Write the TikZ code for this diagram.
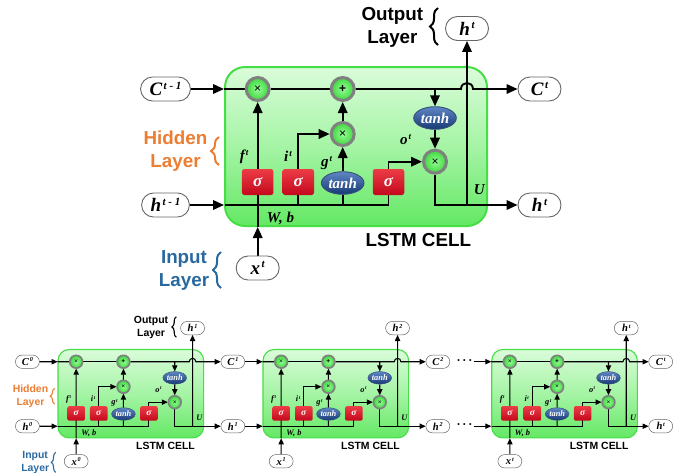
\documentclass[tikz,border=0pt]{standalone}
\usepackage{fontspec}
\setmainfont{Liberation Serif}
\setsansfont{Liberation Sans}
\usetikzlibrary{shapes.geometric,arrows.meta,decorations.pathreplacing}
\pgfdeclarelayer{back}
\pgfdeclarelayer{mid}
\pgfsetlayers{back,mid,main}
\definecolor{orng}{RGB}{237,125,49}
\definecolor{blu}{RGB}{41,105,160}
\definecolor{boxtop}{RGB}{218,252,218}
\definecolor{boxmid}{RGB}{165,244,165}
\definecolor{boxbot}{RGB}{100,232,100}
\definecolor{boxedge}{RGB}{70,222,70}
\definecolor{circin}{RGB}{150,252,150}
\definecolor{circout}{RGB}{60,215,60}
\definecolor{ring}{RGB}{128,128,128}
\definecolor{redtop}{RGB}{236,60,70}
\definecolor{redbot}{RGB}{196,8,28}
\definecolor{bluetop}{RGB}{95,135,195}
\definecolor{bluebot}{RGB}{22,58,118}
\newcommand\setsc[1]{\def\s{#1}%
 \pgfmathsetmacro\al{11*#1}\pgfmathsetmacro\aw{9.5*#1}%
 \pgfmathsetmacro\lw{1.9*#1}\pgfmathsetmacro\lwr{3*#1}%
 \pgfmathsetmacro\lwt{0.9*#1}\pgfmathsetmacro\ba{8*#1}%
 \pgfmathsetmacro\rc{20*#1}\pgfmathsetmacro\rp{12*#1}\pgfmathsetmacro\rs{2.5*#1}%
 \pgfmathsetmacro\lwb{2*#1}}
\setsc{1}
\newcommand\lbl[2]{{\fontsize{19}{19}\selectfont\bfseries\itshape #1\kern1.5pt\raisebox{6.5pt}{\fontsize{11}{11}\selectfont #2}}}
\newcommand\gl[2]{{\fontsize{15}{15}\selectfont\bfseries\itshape #1\kern1pt\raisebox{5pt}{\fontsize{9}{9}\selectfont #2}}}
\tikzset{
 ln/.style={line width=\lw pt, draw=black},
 arr/.style={ln, -{Triangle[length=\al pt,width=\aw pt]}},
 cellbox/.style={rectangle, rounded corners=\rc pt, minimum width=262pt, minimum height=159pt, inner sep=0pt, draw=boxedge, line width=\lwb pt, top color=boxtop, bottom color=boxbot, middle color=boxmid},
 opc/.style={circle, minimum size=23pt, inner sep=0pt, draw=ring, line width=\lwr pt, inner color=circin, outer color=circout, font=\sffamily\fontsize{12}{12}\selectfont},
 sig/.style={rectangle, rounded corners=\rs pt, minimum width=31.5pt, minimum height=26pt, inner sep=0pt, top color=redtop, bottom color=redbot, text=white, font=\bfseries\itshape\fontsize{17}{17}\selectfont},
 thb/.style={ellipse, minimum width=42.6pt, minimum height=22.6pt, inner sep=0pt, top color=bluetop, bottom color=bluebot, draw=bluebot!70!gray, line width=\lwt pt, text=white, font=\bfseries\itshape\fontsize{15}{15}\selectfont},
 pill/.style={rectangle, rounded corners=\rp pt, draw=black!60, line width=\lwt pt, fill=white, minimum height=24pt, minimum width=43pt, inner xsep=9pt, inner ysep=2pt},
 glab/.style={inner sep=0pt},
 lay/.style={align=center, font=\sffamily\bfseries\fontsize{18.8}{23}\selectfont, inner sep=0pt},
 brc/.style={decorate, decoration={brace, amplitude=\ba pt}, line width=\lwb pt},
 dots/.style={font=\bfseries\fontsize{12}{12}\selectfont, inner sep=1pt},
}
% #1 x, #2 y, #3 scale, #4 prefix, #5 x sup, #6 C sup, #7 h sup, #8 top h sup, #9 output x
\newcommand\lstmcell[9]{%
\setsc{#3}%
\begin{scope}[shift={(#1,-#2)},scale=#3,transform shape,name prefix=#4-]
\begin{pgfonlayer}{back}
\node[cellbox] (box) at (131,-79.5) {};
\end{pgfonlayer}
\node[opc] (mul1) at (32.7,-22) {×};
\node[opc] (add) at (117.7,-22) {\textbf{+}};
\node[opc] (mul2) at (117.7,-67) {×};
\node[opc] (mul3) at (210,-94.7) {×};
\node[thb] (tanhC) at (210,-51) {tanh};
\node[sig] (sig1) at (32.7,-115) {σ};
\node[sig] (sig2) at (73.3,-115) {σ};
\node[thb] (tanhG) at (117.7,-116) {tanh};
\node[sig] (sig3) at (163.5,-115) {σ};
\node[glab] (lf) at (19,-89.5) {\gl{f}{t}};
\node[glab] (li) at (63,-89) {\gl{i}{t}};
\node[glab] (lg) at (101.7,-96) {\gl{g}{t}};
\node[glab] (lo) at (180.5,-72.5) {\gl{o}{t}};
\node[glab] (lU) at (254.7,-123) {\gl{U}{}};
\node[glab] (lWb) at (56,-151.3) {\gl{W, b}{}};
\node[glab,font=\sffamily\bfseries\fontsize{18.8}{18.8}\selectfont] (lcell) at (193.3,-173) {LSTM CELL};
\node[pill] (X) at (32.7,-201) {\lbl{x}{#5}};
\node[pill] (Cout) at (#9,-22) {\lbl{C}{#6}};
\node[pill] (Hout) at (#9,-138) {\lbl{h}{#7}};
\node[pill] (Htop) at (242,38.5) {\lbl{h}{#8}};
\coordinate (hL) at (0,-138);
\coordinate (hopL) at (236,-22);
\coordinate (hopR) at (248,-22);
\begin{pgfonlayer}{mid}
\draw[ln] (box.west |- mul1) -- (mul1);
\draw[ln] (mul1) -- (add);
\draw[arr] (add) -- (hopL) .. controls +(0,8) and +(0,8) .. (hopR) -- (Cout);
\draw[arr] (mul2) -- (add);
\draw[arr] (tanhC |- add) -- (tanhC);
\draw[arr] (tanhC) -- (mul3);
\draw[ln] (hL) -- (sig3 |- hL);
\draw[arr] (mul1 |- box.south) -- (mul1);
\draw[arr] (X) -- (X |- box.south);
\draw[arr] (sig2 |- hL) -- (sig2.center) |- (mul2);
\draw[ln] (tanhG |- hL) -- (tanhG);
\draw[arr] (tanhG) -- (mul2);
\draw[arr] (sig3 |- hL) -- (sig3.center) |- (mul3);
\draw[arr] (mul3) |- (Hout);
\draw[arr] (Htop |- Hout) -- (Htop);
\end{pgfonlayer}
\end{scope}}
% #1 x, #2 y, #3 scale, #4 prefix, #5 C sup, #6 h sup, #7 input x
\newcommand\cellinputs[7]{%
\setsc{#3}%
\begin{scope}[shift={(#1,-#2)},scale=#3,transform shape,name prefix=#4-]
\node[pill] (Cin) at (#7,-22) {\lbl{C}{#5}};
\node[pill] (Hin) at (#7,-138) {\lbl{h}{#6}};
\draw[arr] (Cin) -- (box.west |- Cin);
\draw[arr] (Hin) -- (box.west |- Hin);
\node[lay] (outl) at (167.4,39.5) {Output\\Layer};
\draw[brc] (213,22) -- (213,59);
\node[lay, text=orng] (hidl) at (-49.5,-84) {Hidden\\Layer};
\draw[brc, draw=orng] (-6,-98) -- (-6,-70);
\node[lay, text=blu] (inl) at (-41,-203) {Input\\Layer};
\draw[brc, draw=blu] (-4,-221) -- (-4,-185);
\end{scope}}
\begin{document}
\begin{tikzpicture}[x=1pt,y=1pt]
\useasboundingbox (0,0) rectangle (690,-472);
\clip (0,0) rectangle (690,-472);
% top large cell
\lstmcell{225}{67}{1}{T}{t}{t}{t}{t}{314.5}
\cellinputs{225}{67}{1}{T}{t - 1}{t - 1}{-59.5}
% bottom row
\lstmcell{58}{349.5}{0.556}{B1}{0}{1}{1}{1}{314.5}
\cellinputs{58}{349.5}{0.556}{B1}{0}{0}{-55}
\lstmcell{263}{349.5}{0.556}{B2}{1}{2}{2}{2}{314.5}
\lstmcell{491.7}{349.5}{0.556}{B3}{t}{t}{t}{t}{304}
\setsc{0.556}
\draw[arr] (B1-Cout) -- (B2-box.west |- B1-Cout);
\draw[arr] (B1-Hout) -- (B2-box.west |- B1-Hout);
\node[dots] (dC) at (464.5,-361.7) {·\,·\,·};
\node[dots] (dH) at (464.5,-426.2) {·\,·\,·};
\draw[arr] (dC) -- (B3-box.west |- dC);
\draw[arr] (dH) -- (B3-box.west |- dH);
\end{tikzpicture}
\end{document}
